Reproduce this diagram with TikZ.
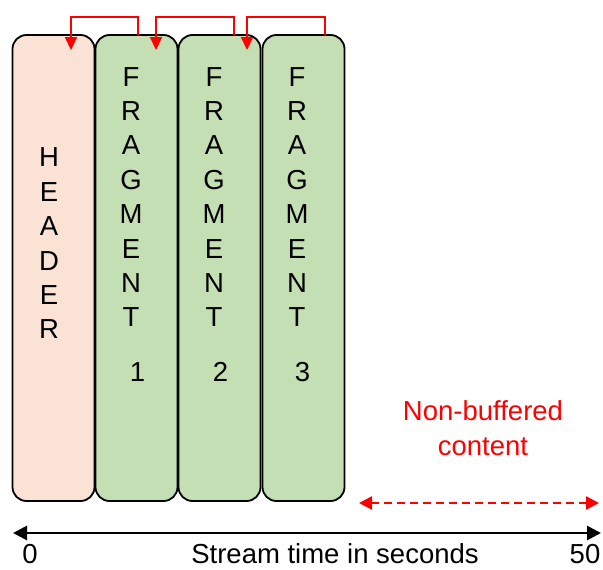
\documentclass[tikz,border=0pt]{standalone}
\usepackage{fontspec}
\setmainfont{Liberation Sans}
\usetikzlibrary{arrows.meta}
\definecolor{peach}{HTML}{FAE3D5}
\definecolor{leaf}{HTML}{C5DFB4}
\definecolor{rred}{HTML}{FF0000}
\begin{document}
\begin{tikzpicture}[x=1pt,y=-1pt,
  blockbox/.style={draw=black,line width=1.8pt,rounded corners=14pt,minimum width=82pt,minimum height=466pt,inner sep=0pt},
  hdrbox/.style={blockbox,fill=peach},
  fragbox/.style={blockbox,fill=leaf},
  letters/.style={inner sep=0pt,align=center,font=\fontsize{27.5}{34.4}\selectfont},
  lbl/.style={inner sep=0pt,font=\fontsize{27.5}{34.4}\selectfont},
  redlink/.style={draw=rred,line width=2pt,-{Triangle[length=13pt,width=12pt]}},
  timeline/.style={draw=black,line width=2.8pt,{Triangle[length=14pt,width=14pt]}-{Triangle[length=14pt,width=14pt]}},
  nonbuf/.style={draw=rred,line width=2.4pt,dash pattern=on 8pt off 5pt,{Triangle[length=13pt,width=13pt]}-{Triangle[length=13pt,width=13pt]}}
]
\useasboundingbox (0,0) rectangle (603,570);
% boxes
\node[hdrbox] (hdr) at (53.5,268) {};
\node[fragbox] (f1) at (136.5,268) {};
\node[fragbox] (f2) at (219.5,268) {};
\node[fragbox] (f3) at (303.5,268) {};
% texts
\node[letters] (thdr) at (49,243.5) {H\\E\\A\\D\\E\\R};
\node[letters] (tf1) at (131,197) {F\\R\\A\\G\\M\\E\\N\\T};
\node[letters] (tf2) at (214,197) {F\\R\\A\\G\\M\\E\\N\\T};
\node[letters] (tf3) at (297,197) {F\\R\\A\\G\\M\\E\\N\\T};
\node[lbl] (n1) at (137.5,372) {1};
\node[lbl] (n2) at (220.5,372) {2};
\node[lbl] (n3) at (302.5,372) {3};
% red links
\coordinate (s1) at (138,35); \coordinate (e1) at (71,50);
\coordinate (s2) at (234,35); \coordinate (e2) at (156,50);
\coordinate (s3) at (325,35); \coordinate (e3) at (247,50);
\draw[redlink] (s1) -- (138,17) -- (71,17) -- (e1);
\draw[redlink] (s2) -- (234,17) -- (156,17) -- (e2);
\draw[redlink] (s3) -- (325,17) -- (247,17) -- (e3);
% non-buffered
\node[letters,text=rred] (nb) at (483,428) {Non-buffered\\content};
\coordinate (nbl) at (359,503); \coordinate (nbr) at (599,503);
\draw[nonbuf] (nbl) -- (nbr);
% timeline
\coordinate (tl0) at (13,533); \coordinate (tl1) at (601,533);
\draw[timeline] (tl0) -- (tl1);
\node[lbl,anchor=base] (z0) at (30,563) {0};
\node[lbl,anchor=base] (z50) at (585,563) {50};
\node[lbl,anchor=base] (ttl) at (335,563) {Stream time in seconds};
\end{tikzpicture}
\end{document}
